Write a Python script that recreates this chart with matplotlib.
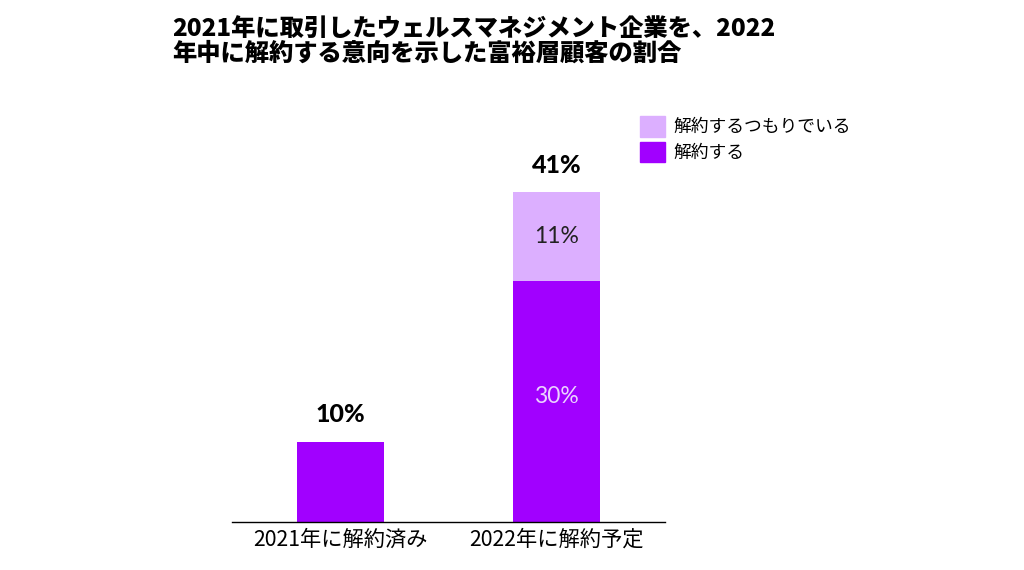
import matplotlib.pyplot as plt
from matplotlib.patches import Patch

plt.rcParams["font.family"] = ["Noto Sans CJK JP", "DejaVu Sans"]

categories = ["2021年に解約済み", "2022年に解約予定"]
terminated = [10, 30]
intend = [0, 11]
totals = ["10%", "41%"]
intend_labels = [None, "11%"]
terminated_labels = [None, "30%"]
legend_labels = ["解約するつもりでいる", "解約する"]
title = "2021年に取引したウェルスマネジメント企業を、2022\n年中に解約する意向を示した富裕層顧客の割合"

dark = "#A100FF"
light = "#DCAFFF"

fig = plt.figure(figsize=(10.24, 5.7), dpi=100)
ax = fig.add_axes([232 / 1024, 1 - 522 / 570, (665 - 232) / 1024, 402 / 570])

x = list(range(len(categories)))
ax.bar(x, terminated, width=0.4, color=dark)
ax.bar(x, intend, width=0.4, bottom=terminated, color=light)

ax.set_xlim(-0.5, 1.5)
ax.set_ylim(0, 50)

for i in x:
    top = terminated[i] + intend[i]
    ax.text(i, top + 1.9, totals[i], ha="center", va="bottom", fontsize=18,
            fontweight="black", family=["Lato", "DejaVu Sans"], color="black")
    if intend_labels[i]:
        ax.text(i, terminated[i] + intend[i] / 2, intend_labels[i], ha="center",
                va="center", fontsize=16.5, family=["Lato", "DejaVu Sans"],
                color="#222222")
    if terminated_labels[i]:
        ax.text(i, terminated[i] / 2 + 0.6, terminated_labels[i], ha="center",
                va="center", fontsize=16.5, family=["Lato", "DejaVu Sans"],
                color="#EBD2FF")

ax.set_xticks(x)
ax.set_xticklabels(categories, fontsize=15.3)
ax.tick_params(axis="x", length=0, pad=5)
ax.set_yticks([])
for s in ["left", "right", "top"]:
    ax.spines[s].set_visible(False)
ax.spines["bottom"].set_linewidth(1)

handles = [Patch(color=light), Patch(color=dark)]
fig.legend(handles, legend_labels, loc="upper left",
           bbox_to_anchor=(624 / 1024, 1 - 100 / 570), frameon=False,
           fontsize=12.8, handlelength=1.4, handleheight=1.4,
           handletextpad=0.5, labelspacing=0.3)

fig.text(172 / 1024, 1 - 17 / 570, title, ha="left", va="top", fontsize=17.5,
         fontweight="black", linespacing=1.0)

fig.savefig("out.png", dpi=100)
